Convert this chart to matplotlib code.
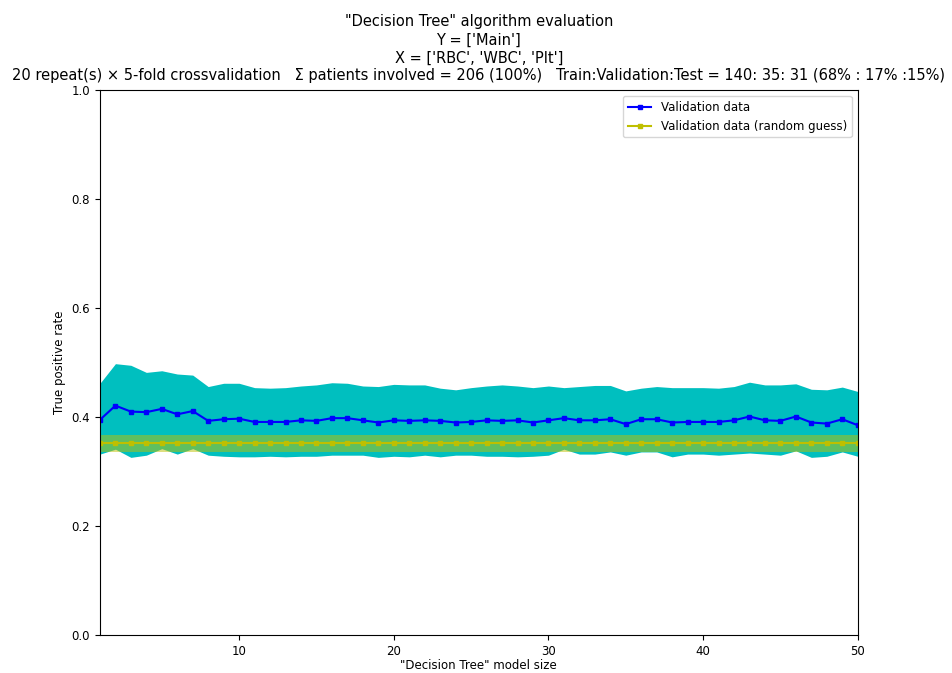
import numpy as np
import matplotlib
matplotlib.use('Agg')
import matplotlib.pyplot as plt

## ------------------------------------------------------------
## 데이터 : 모델 크기별 검증 TPR (평균 / 하한 / 상한)
## ------------------------------------------------------------
model_size = list(range(1, 51))

val_mean = [0.395, 0.421, 0.410, 0.409, 0.415, 0.405, 0.411, 0.393, 0.396, 0.397,
            0.391, 0.391, 0.391, 0.394, 0.393, 0.398, 0.398, 0.394, 0.390, 0.394,
            0.393, 0.394, 0.393, 0.390, 0.391, 0.394, 0.393, 0.394, 0.390, 0.394,
            0.398, 0.394, 0.394, 0.396, 0.387, 0.396, 0.396, 0.390, 0.391, 0.391,
            0.391, 0.394, 0.401, 0.394, 0.393, 0.401, 0.390, 0.388, 0.396, 0.385]

val_upper = [0.462, 0.498, 0.495, 0.482, 0.485, 0.479, 0.477, 0.456, 0.462, 0.462,
             0.454, 0.453, 0.454, 0.457, 0.459, 0.463, 0.462, 0.457, 0.456, 0.460,
             0.459, 0.459, 0.453, 0.450, 0.454, 0.457, 0.459, 0.457, 0.454, 0.457,
             0.454, 0.456, 0.458, 0.458, 0.448, 0.453, 0.456, 0.454, 0.454, 0.454,
             0.453, 0.456, 0.464, 0.459, 0.459, 0.461, 0.451, 0.450, 0.455, 0.447]

val_lower = [0.332, 0.341, 0.326, 0.330, 0.342, 0.332, 0.342, 0.330, 0.328, 0.327,
             0.327, 0.328, 0.327, 0.328, 0.328, 0.330, 0.330, 0.330, 0.326, 0.328,
             0.327, 0.330, 0.327, 0.330, 0.330, 0.328, 0.328, 0.327, 0.328, 0.330,
             0.341, 0.332, 0.332, 0.336, 0.330, 0.336, 0.336, 0.327, 0.332, 0.332,
             0.330, 0.332, 0.334, 0.332, 0.330, 0.338, 0.326, 0.328, 0.336, 0.328]

## 랜덤 추측 기준 (평균 / 하한 / 상한)
rand_mean  = [0.352] * 50
rand_lower = [0.336] * 50
rand_upper = [0.367] * 50

title_lines = ['"Decision Tree" algorithm evaluation',
               "Y = ['Main']",
               "X = ['RBC', 'WBC', 'Plt']",
               "20 repeat(s) × 5-fold crossvalidation   Σ patients involved = 206 (100%)   "
               "Train:Validation:Test = 140: 35: 31 (68% : 17% :15%)"]

## ------------------------------------------------------------
## 시각화
## ------------------------------------------------------------
fig = plt.figure(figsize=(9.52, 6.73), dpi=100)
ax = fig.add_axes([0.105, 0.0565, 0.796, 0.8095])

ax.fill_between(model_size, val_lower, val_upper, color='c', linewidth=0)
ax.plot(model_size, val_mean, 'b-', marker='s', markersize=3, label='Validation data')
ax.fill_between(model_size, rand_lower, rand_upper, color='y', alpha=0.5, linewidth=0)
ax.plot(model_size, rand_mean, 'y-', marker='s', markersize=3,
        label='Validation data (random guess)')

ax.set_xlim(1, 50)
ax.set_ylim(0, 1.0)
ax.set_xticks([10, 20, 30, 40, 50])
ax.set_yticks([0.0, 0.2, 0.4, 0.6, 0.8, 1.0])
ax.tick_params(labelsize=8.5)

ax.set_xlabel('"Decision Tree" model size', fontsize=8.5, labelpad=1)
ax.set_ylabel('True positive rate', fontsize=8.5)
ax.set_title('\n'.join(title_lines), fontsize=10.5, linespacing=1.25, pad=7)
ax.legend(loc='upper right', fontsize=8.5)

fig.savefig('out.png', dpi=100)
